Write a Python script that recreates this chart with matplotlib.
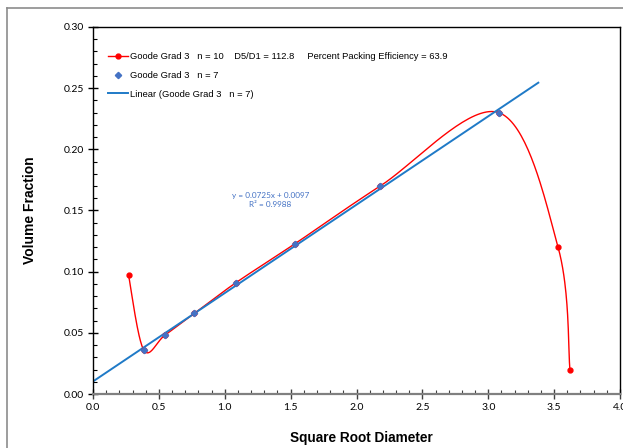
import numpy as np
import matplotlib
matplotlib.use('Agg')
import matplotlib.pyplot as plt
from matplotlib.lines import Line2D
from matplotlib.ticker import MultipleLocator, FormatStrFormatter

# data
x_all = [0.27, 0.385, 0.545, 0.77, 1.085, 1.535, 2.18, 3.08, 3.53, 3.62]
y_all = [0.097, 0.036, 0.048, 0.066, 0.091, 0.123, 0.170, 0.230, 0.120, 0.020]
x_fit = [0.385, 0.545, 0.77, 1.085, 1.535, 2.18, 3.08]
y_fit = [0.036, 0.048, 0.066, 0.091, 0.123, 0.170, 0.230]

lbl_all = 'Goode Grad 3   n = 10    D5/D1 = 112.8     Percent Packing Efficiency = 63.9'
lbl_fit = 'Goode Grad 3   n = 7'
lbl_lin = 'Linear (Goode Grad 3   n = 7)'
eq_txt = 'y = 0.0725x + 0.0097\nR² = 0.9988'


def excel_smooth(xs, ys, n=40):
    # catmull-rom style bezier, like excel's smoothed line
    p = np.column_stack([xs, ys])
    pts = np.vstack([p[0], p, p[-1]])
    out = []
    for i in range(1, len(pts) - 2):
        p0, p1, p2, p3 = pts[i - 1], pts[i], pts[i + 1], pts[i + 2]
        c1 = p1 + (p2 - p0) / 6
        c2 = p2 - (p3 - p1) / 6
        t = np.linspace(0, 1, n)[:, None]
        b = ((1 - t) ** 3) * p1 + 3 * ((1 - t) ** 2) * t * c1 + 3 * (1 - t) * t ** 2 * c2 + t ** 3 * p2
        out.append(b)
    out = np.vstack(out)
    return out[:, 0], out[:, 1]


fig = plt.figure(figsize=(6.23, 4.48), dpi=100)
ax = fig.add_axes([93 / 623, 54 / 448, 527 / 623, 367 / 448])

sx, sy = excel_smooth(x_all, y_all)
ax.plot(sx, sy, color='#FF0000', lw=1.0, zorder=2)
ax.plot(x_all, y_all, 'o', color='#FF0000', ms=3.5, zorder=3)

m, c = np.polyfit(x_fit, y_fit, 1)
xl = np.array([0, max(x_fit) + 0.3])
ax.plot(xl, m * xl + c, color='#1F7AC7', lw=1.4, zorder=2)
ax.plot(x_fit, y_fit, 'D', color='#4472C4', ms=3.2, zorder=4)

ax.text(1.345, 0.1585, eq_txt, color='#4472C4', fontsize=5.9, ha='center', va='center',
        family='Lato', linespacing=1.35)

ax.set_xlim(0, 4.0)
ax.set_ylim(0, 0.30)
ax.xaxis.set_major_locator(MultipleLocator(0.5))
ax.xaxis.set_minor_locator(MultipleLocator(0.1))
ax.yaxis.set_major_locator(MultipleLocator(0.05))
ax.yaxis.set_minor_locator(MultipleLocator(0.01))
ax.xaxis.set_major_formatter(FormatStrFormatter('%.1f'))
ax.yaxis.set_major_formatter(FormatStrFormatter('%.2f'))
ax.tick_params(axis='both', which='major', direction='inout', length=7, width=1, labelsize=7.5, pad=3)
ax.tick_params(axis='both', which='minor', direction='in', length=3, width=0.8)
ax.tick_params(axis='x', which='both', color='#404040')
for lab in ax.get_xticklabels() + ax.get_yticklabels():
    lab.set_family('Lato')

for s in ['left', 'top', 'right']:
    ax.spines[s].set_color('black')
    ax.spines[s].set_linewidth(1.0)
ax.spines['bottom'].set_color('#808080')
ax.spines['bottom'].set_linewidth(1.6)

handles = [
    Line2D([], [], color='#FF0000', lw=1.0, marker='o', ms=3.5),
    Line2D([], [], color='#4472C4', lw=0, marker='D', ms=3.2),
    Line2D([], [], color='#1F7AC7', lw=1.4),
]
ax.legend(handles, [lbl_all, lbl_fit, lbl_lin], loc='upper left', bbox_to_anchor=(0.012, 0.955),
          frameon=False, handlelength=2.2, handletextpad=0.2, labelspacing=1.05,
          prop={'family': 'Liberation Sans', 'size': 6.75})

fig.text(30 / 623, 1 - 210 / 448, 'Volume Fraction', rotation=90, ha='center', va='center',
         fontsize=10, fontweight='bold', family='Liberation Sans')
fig.text(361 / 623, 1 - 438 / 448, 'Square Root Diameter', ha='center', va='center',
         fontsize=9.8, fontweight='bold', family='Liberation Sans')

# chart area border
fig.add_artist(Line2D([7 / 623, 7 / 623], [0, 1 - 8 / 448], transform=fig.transFigure, color='#8C8C8C', lw=1.2))
fig.add_artist(Line2D([7 / 623, 1], [1 - 8 / 448, 1 - 8 / 448], transform=fig.transFigure, color='#8C8C8C', lw=1.2))

fig.savefig('out.png', dpi=100)
